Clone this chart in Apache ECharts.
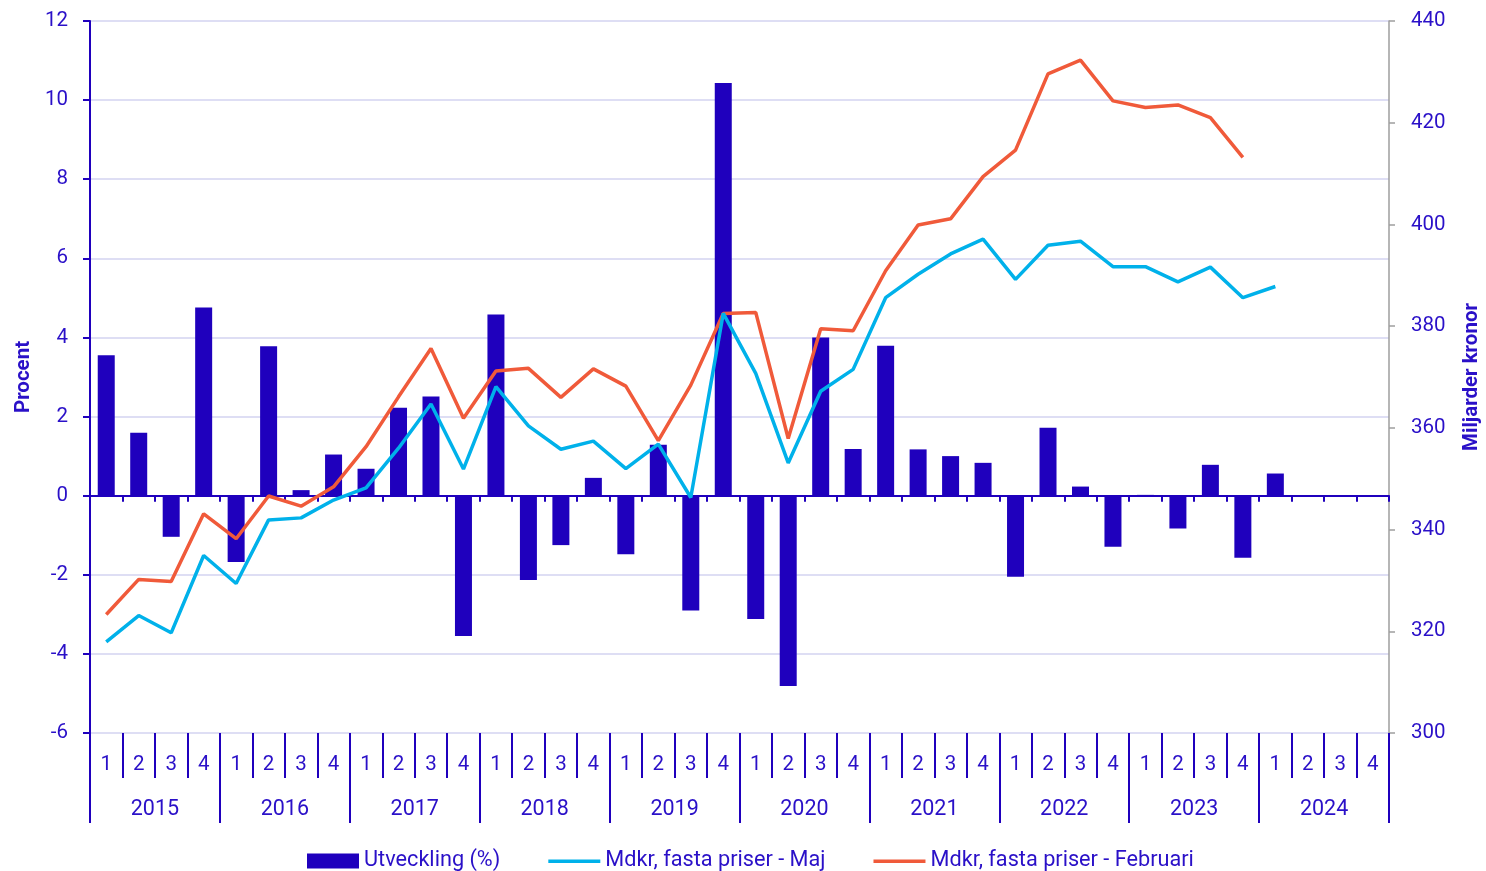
<!DOCTYPE html>
<html>
<head>
<meta charset="utf-8">
<script src="https://cdn.jsdelivr.net/npm/echarts@6/dist/echarts.min.js"></script>
<style>
html,body{margin:0;padding:0;background:#fff;overflow:hidden;}
#chart{width:1486px;height:871px;}
</style>
</head>
<body>
<div id="chart"></div>
<script>
var years = ['2015','2016','2017','2018','2019','2020','2021','2022','2023','2024'];
var quarters = ['1','2','3','4'];
var utveckling = [3.55,1.59,-1.04,4.76, -1.68,3.78,0.14,1.04, 0.68,2.22,2.51,-3.55, 4.58,-2.13,-1.25,0.45, -1.48,1.29,-2.90,10.43, -3.12,-4.81,4.00,1.18, 3.79,1.17,1.00,0.83, -2.05,1.72,0.23,-1.29, 0.02,-0.83,0.78,-1.57, 0.56];
var maj = [317.9,323.1,319.7,334.9, 329.4,341.9,342.3,345.8, 348.2,356.0,364.7,351.9, 368.1,360.4,355.8,357.4, 352.0,356.8,346.3,382.5, 370.7,353.1,367.2,371.5, 385.6,390.2,394.2,397.1, 389.2,395.9,396.7,391.7, 391.7,388.7,391.6,385.6, 387.8];
var februari = [323.3,330.2,329.8,343.1, 338.2,346.6,344.6,348.4, 356.3,366.1,375.6,361.9, 371.2,371.7,366.0,371.6, 368.2,357.5,368.4,382.5, 382.7,357.9,379.5,379.1, 390.9,399.9,401.1,409.4, 414.6,429.6,432.3,424.3, 423.0,423.5,421.0,413.2];

var quarterCats = [];
years.forEach(function(y){ quarters.forEach(function(q){ quarterCats.push(y + ' K' + q); }); });
var quarterLabels = [];
years.forEach(function(){ quarters.forEach(function(q){ quarterLabels.push(q); }); });

var BLUE = '#1f00bd';
var TXT = '#2a10c8';
var FONT = 'Roboto';
var LINE_ICON = 'path://M0,0 L0.01,0 L0,0.01 Z M0,6 L52,6 L52,9.5 L0,9.5 Z M51.99,15 L52,15 L52,14.99 Z';

var chart = echarts.init(document.getElementById('chart'));
chart.setOption({
  animation: false,
  textStyle: {fontFamily: FONT},
  grid: {left: 90, right: 97, top: 21, bottom: 138, containLabel: false, outerBoundsMode: 'none'},
  legend: {
    top: 845, left: 302,
    itemWidth: 52, itemHeight: 15, itemGap: 48,
    textStyle: {color: TXT, fontSize: 21.7, fontFamily: FONT},
    data: [
      {name: 'Utveckling (%)', icon: 'rect'},
      {name: 'Mdkr, fasta priser - Maj', icon: LINE_ICON},
      {name: 'Mdkr, fasta priser - Februari', icon: LINE_ICON}
    ]
  },
  xAxis: [
    {
      type: 'category', data: quarterCats, gridIndex: 0,
      axisLine: {onZero: true, lineStyle: {color: BLUE, width: 2}},
      axisTick: {show: true, interval: 0, length: 6, lineStyle: {color: BLUE, width: 2}},
      axisLabel: {show: false},
      splitLine: {show: false}
    },
    {
      type: 'category', data: quarterLabels, position: 'bottom',
      axisLine: {show: false, onZero: false},
      axisTick: {show: true, interval: 0, length: 45, lineStyle: {color: BLUE, width: 2}},
      axisLabel: {interval: 0, margin: 21, color: TXT, fontSize: 20.5, fontFamily: FONT},
      splitLine: {show: false}
    },
    {
      type: 'category', data: years, position: 'bottom',
      axisLine: {show: false, onZero: false},
      axisTick: {show: true, interval: 0, length: 90, lineStyle: {color: BLUE, width: 2}},
      axisLabel: {interval: 0, margin: 66, color: TXT, fontSize: 21.5, fontFamily: FONT},
      splitLine: {show: false}
    }
  ],
  yAxis: [
    {
      type: 'value', min: -6, max: 12, interval: 2, position: 'left',
      name: 'Procent', nameLocation: 'middle', nameRotate: 90, nameGap: 56,
      nameTextStyle: {color: TXT, fontSize: 20.5, fontWeight: 'bold', fontFamily: FONT},
      axisLine: {show: true, lineStyle: {color: BLUE, width: 2}},
      axisTick: {show: true, length: 7, lineStyle: {color: BLUE, width: 2}},
      axisLabel: {margin: 22, color: TXT, fontSize: 20.5, fontFamily: FONT},
      splitLine: {show: true, lineStyle: {color: '#d3d3f0', width: 1.5}}
    },
    {
      type: 'value', min: 300, max: 440, interval: 20, position: 'right',
      name: 'Miljarder kronor', nameLocation: 'middle', nameRotate: 90, nameGap: 72,
      nameTextStyle: {color: TXT, fontSize: 20.5, fontWeight: 'bold', fontFamily: FONT},
      axisLine: {show: true, lineStyle: {color: '#9e9e9e', width: 1.5}},
      axisTick: {show: true, length: 6, lineStyle: {color: '#9e9e9e', width: 1.5}},
      axisLabel: {margin: 22, color: TXT, fontSize: 20.5, fontFamily: FONT},
      splitLine: {show: false}
    }
  ],
  series: [
    {
      name: 'Utveckling (%)', type: 'bar', xAxisIndex: 0, yAxisIndex: 0,
      data: utveckling, barWidth: 17,
      itemStyle: {color: BLUE}, z: 2
    },
    {
      name: 'Mdkr, fasta priser - Maj', type: 'line', xAxisIndex: 0, yAxisIndex: 1,
      data: maj, symbol: 'none', showSymbol: false,
      lineStyle: {color: '#00b1ea', width: 3.5}, itemStyle: {color: '#00b1ea'}, z: 4
    },
    {
      name: 'Mdkr, fasta priser - Februari', type: 'line', xAxisIndex: 0, yAxisIndex: 1,
      data: februari, symbol: 'none', showSymbol: false,
      lineStyle: {color: '#f05a3a', width: 3.5}, itemStyle: {color: '#f05a3a'}, z: 3
    }
  ]
});
</script>
</body>
</html>
